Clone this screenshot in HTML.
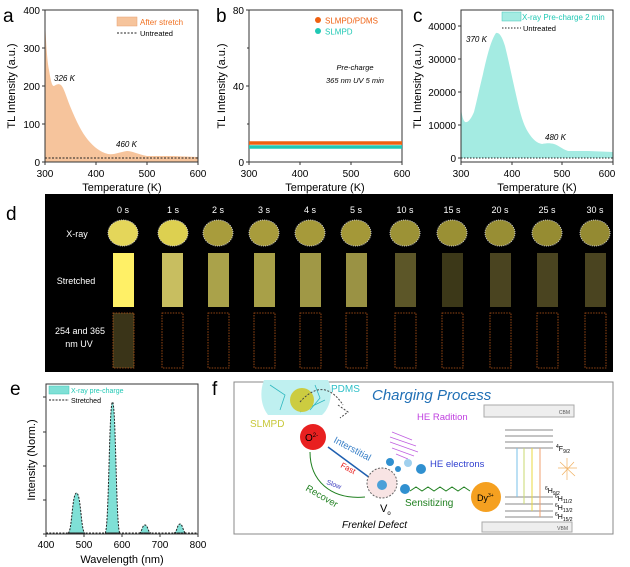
<!DOCTYPE html>
<html><head><meta charset="utf-8"><style>
html,body{margin:0;padding:0;background:#fff}
svg{display:block;font-family:"Liberation Sans",sans-serif}
</style></head><body>
<svg width="630" height="567" viewBox="0 0 630 567" xmlns="http://www.w3.org/2000/svg">
<!-- ===== Panel a ===== -->
<text x="3" y="22" font-size="19">a</text>
<path d="M45,162 L45,21 C46,40 47,60 49,70 C51,82 52,86 54,86 C56,85 58,83 61,85 C64,88 66,96 70,106 C75,118 80,130 88,140 C94,147 100,152 108,154 C114,155 120,152 127,151 C132,151 137,154 147,156 L173,156 L198,157 L198,162 Z" fill="#f6c49c"/>
<line x1="45" y1="158" x2="198" y2="158" stroke="#222" stroke-width="1" stroke-dasharray="2,1.5"/>
<rect x="45" y="10" width="153" height="152" fill="none" stroke="#333" stroke-width="1"/>
<g stroke="#333" stroke-width="1">
<line x1="42" y1="10" x2="45" y2="10"/><line x1="42" y1="48" x2="45" y2="48"/><line x1="42" y1="86" x2="45" y2="86"/><line x1="42" y1="124" x2="45" y2="124"/><line x1="42" y1="162" x2="45" y2="162"/>
<line x1="45" y1="162" x2="45" y2="165"/><line x1="96" y1="162" x2="96" y2="165"/><line x1="147" y1="162" x2="147" y2="165"/><line x1="198" y1="162" x2="198" y2="165"/>
</g>
<g font-size="10" text-anchor="end"><text x="40" y="14">400</text><text x="40" y="52">300</text><text x="40" y="90">200</text><text x="40" y="128">100</text><text x="40" y="166">0</text></g>
<g font-size="10" text-anchor="middle"><text x="45" y="177">300</text><text x="96" y="177">400</text><text x="147" y="177">500</text><text x="198" y="177">600</text></g>
<text x="122" y="191" font-size="11" text-anchor="middle">Temperature (K)</text>
<text transform="translate(15,86) rotate(-90)" font-size="11" text-anchor="middle">TL Intensity (a.u.)</text>
<text x="54" y="81" font-size="8" font-style="italic">326 K</text>
<text x="116" y="147" font-size="8" font-style="italic">460 K</text>
<rect x="117" y="17" width="20" height="9" fill="#f6c49c" stroke="#e8a070" stroke-width="0.5"/>
<text x="140" y="25" font-size="8" fill="#f07020">After stretch</text>
<line x1="117" y1="33" x2="137" y2="33" stroke="#222" stroke-dasharray="2,1.5"/>
<text x="140" y="36" font-size="7.5">Untreated</text>

<!-- ===== Panel b ===== -->
<text x="216" y="22" font-size="19">b</text>
<rect x="249" y="10" width="153" height="152" fill="none" stroke="#333" stroke-width="1"/>
<line x1="249" y1="143" x2="402" y2="143" stroke="#f06010" stroke-width="3.5"/>
<line x1="249" y1="147" x2="402" y2="147" stroke="#20c8b4" stroke-width="3.5"/>
<g stroke="#333" stroke-width="1">
<line x1="246" y1="10" x2="249" y2="10"/><line x1="247" y1="48" x2="249" y2="48"/><line x1="246" y1="86" x2="249" y2="86"/><line x1="247" y1="124" x2="249" y2="124"/><line x1="246" y1="162" x2="249" y2="162"/>
<line x1="249" y1="162" x2="249" y2="165"/><line x1="300" y1="162" x2="300" y2="165"/><line x1="351" y1="162" x2="351" y2="165"/><line x1="402" y1="162" x2="402" y2="165"/>
</g>
<g font-size="10" text-anchor="end"><text x="244" y="14">80</text><text x="244" y="90">40</text><text x="244" y="166">0</text></g>
<g font-size="10" text-anchor="middle"><text x="249" y="177">300</text><text x="300" y="177">400</text><text x="351" y="177">500</text><text x="402" y="177">600</text></g>
<text x="325" y="191" font-size="11" text-anchor="middle">Temperature (K)</text>
<text transform="translate(225,86) rotate(-90)" font-size="11" text-anchor="middle">TL Intensity (a.u.)</text>
<circle cx="318" cy="20" r="3" fill="#f06010"/><text x="325" y="23.5" font-size="8" fill="#f06010">SLMPD/PDMS</text>
<circle cx="318" cy="31" r="3" fill="#20c8b4"/><text x="325" y="34.5" font-size="8" fill="#20c8b4">SLMPD</text>
<text x="355" y="70" font-size="7.5" font-style="italic" text-anchor="middle">Pre-charge</text>
<text x="355" y="83" font-size="7.5" font-style="italic" text-anchor="middle">365 nm UV  5 min</text>

<!-- ===== Panel c ===== -->
<text x="413" y="22" font-size="19">c</text>
<path d="M461,158 L461,108 C462,116 463,120 465,122 C468,123 471,119 474,112 C477,100 480,86 483,74 C487,56 491,40 496,33 C499,32 502,36 505,46 C509,62 513,82 517,99 C520,112 523,124 528,132 C533,140 537,143 542,144 C547,143 550,143 554,144 C558,145 562,149 568,151 L588,151 L613,152 L613,158 Z" fill="#a4ebe2"/>
<line x1="461" y1="158" x2="613" y2="158" stroke="#222" stroke-dasharray="1.5,1.5"/>
<rect x="461" y="10" width="152" height="152" fill="none" stroke="#333" stroke-width="1"/>
<g stroke="#333" stroke-width="1">
<line x1="458" y1="26" x2="461" y2="26"/><line x1="458" y1="59" x2="461" y2="59"/><line x1="458" y1="92" x2="461" y2="92"/><line x1="458" y1="125" x2="461" y2="125"/><line x1="458" y1="158" x2="461" y2="158"/>
<line x1="461" y1="162" x2="461" y2="165"/><line x1="512" y1="162" x2="512" y2="165"/><line x1="562" y1="162" x2="562" y2="165"/><line x1="613" y1="162" x2="613" y2="165"/>
</g>
<g font-size="10" text-anchor="end"><text x="456" y="30">40000</text><text x="456" y="63">30000</text><text x="456" y="96">20000</text><text x="456" y="129">10000</text><text x="456" y="162">0</text></g>
<g font-size="10" text-anchor="middle"><text x="461" y="177">300</text><text x="512" y="177">400</text><text x="562" y="177">500</text><text x="607" y="177">600</text></g>
<text x="537" y="191" font-size="11" text-anchor="middle">Temperature (K)</text>
<text transform="translate(421,86) rotate(-90)" font-size="11" text-anchor="middle">TL Intensity (a.u.)</text>
<text x="466" y="42" font-size="8" font-style="italic">370 K</text>
<text x="545" y="140" font-size="8" font-style="italic">480 K</text>
<rect x="502" y="12" width="19" height="9" fill="#a4ebe2" stroke="#40c8b8" stroke-width="0.5"/>
<text x="522" y="20" font-size="8" fill="#20c8b4">X-ray Pre-charge 2 min</text>
<line x1="502" y1="28" x2="521" y2="28" stroke="#222" stroke-dasharray="1.5,1.5"/>
<text x="523" y="31" font-size="7.5">Untreated</text>

<!-- ===== Panel d ===== -->
<text x="6" y="220" font-size="19">d</text>
<rect x="45" y="194" width="568" height="178" fill="#000"/>
<g font-size="9" fill="#fff" text-anchor="middle">
<text x="123" y="213">0 s</text><text x="173" y="213">1 s</text><text x="218" y="213">2 s</text><text x="264" y="213">3 s</text><text x="310" y="213">4 s</text><text x="356" y="213">5 s</text><text x="405" y="213">10 s</text><text x="452" y="213">15 s</text><text x="500" y="213">20 s</text><text x="547" y="213">25 s</text><text x="595" y="213">30 s</text>
<text x="77" y="237">X-ray</text><text x="76" y="284">Stretched</text><text x="80" y="334">254 and 365</text><text x="79" y="347">nm UV</text>
</g>
<g stroke="#ccc" stroke-width="1" stroke-dasharray="1,1.2">
<ellipse cx="123" cy="233" rx="15" ry="13" fill="#e4d65a"/>
<ellipse cx="173" cy="233" rx="15" ry="13" fill="#ddd050"/>
<ellipse cx="218" cy="233" rx="15" ry="13" fill="#a89c3c"/>
<ellipse cx="264" cy="233" rx="15" ry="13" fill="#a89c3c"/>
<ellipse cx="310" cy="233" rx="15" ry="13" fill="#a69a3a"/>
<ellipse cx="356" cy="233" rx="15" ry="13" fill="#a49838"/>
<ellipse cx="405" cy="233" rx="15" ry="13" fill="#9c9236"/>
<ellipse cx="452" cy="233" rx="15" ry="13" fill="#9a9034"/>
<ellipse cx="500" cy="233" rx="15" ry="13" fill="#988e34"/>
<ellipse cx="547" cy="233" rx="15" ry="13" fill="#968c32"/>
<ellipse cx="595" cy="233" rx="15" ry="13" fill="#948a32"/>
</g>
<g>
<rect x="113" y="253" width="21" height="54" fill="#fff066"/>
<rect x="162" y="253" width="21" height="54" fill="#c8be60"/>
<rect x="208" y="253" width="21" height="54" fill="#aaa24a"/>
<rect x="254" y="253" width="21" height="54" fill="#a8a048"/>
<rect x="300" y="253" width="21" height="54" fill="#a09846"/>
<rect x="346" y="253" width="21" height="54" fill="#9a9244"/>
<rect x="395" y="253" width="21" height="54" fill="#5c5628"/>
<rect x="442" y="253" width="21" height="54" fill="#3c3818"/>
<rect x="490" y="253" width="21" height="54" fill="#4a4420"/>
<rect x="537" y="253" width="21" height="54" fill="#4a4420"/>
<rect x="585" y="253" width="21" height="54" fill="#4a4420"/>
</g>
<g fill="none" stroke="#c05a1a" stroke-width="0.8" stroke-dasharray="1.5,1.2">
<rect x="113" y="313" width="21" height="55" fill="#3a3418"/>
<rect x="162" y="313" width="21" height="55"/>
<rect x="208" y="313" width="21" height="55"/>
<rect x="254" y="313" width="21" height="55"/>
<rect x="300" y="313" width="21" height="55"/>
<rect x="346" y="313" width="21" height="55"/>
<rect x="395" y="313" width="21" height="55"/>
<rect x="442" y="313" width="21" height="55"/>
<rect x="490" y="313" width="21" height="55"/>
<rect x="537" y="313" width="21" height="55"/>
<rect x="585" y="313" width="21" height="55"/>
</g>

<!-- ===== Panel e ===== -->
<text x="10" y="395" font-size="19">e</text>
<g fill="#7fe0d6" stroke="#222" stroke-width="1" stroke-dasharray="2,1.3">
<path d="M68,533 C72,533 72,493 76.5,493 C81,493 81,533 85,533 Z"/>
<path d="M105,533 C109,533 109,402 112.5,402 C116,402 116,533 120,533 Z"/>
<path d="M139,533 C142,533 142,525 145,525 C148,525 148,533 151,533 Z"/>
<path d="M174,533 C177,533 177,524 180,524 C183,524 183,533 186,533 Z"/>
</g>
<line x1="46" y1="533" x2="198" y2="533" stroke="#222" stroke-dasharray="2,1.3"/>
<rect x="46" y="384" width="152" height="150" fill="none" stroke="#333" stroke-width="1"/>
<g stroke="#333" stroke-width="1">
<line x1="43" y1="397" x2="46" y2="397"/><line x1="43" y1="432" x2="46" y2="432"/><line x1="43" y1="466" x2="46" y2="466"/><line x1="43" y1="500" x2="46" y2="500"/><line x1="43" y1="534" x2="46" y2="534"/>
<line x1="46" y1="534" x2="46" y2="537"/><line x1="84" y1="534" x2="84" y2="537"/><line x1="122" y1="534" x2="122" y2="537"/><line x1="160" y1="534" x2="160" y2="537"/><line x1="198" y1="534" x2="198" y2="537"/>
</g>
<g font-size="10" text-anchor="middle"><text x="46" y="548">400</text><text x="84" y="548">500</text><text x="122" y="548">600</text><text x="160" y="548">700</text><text x="198" y="548">800</text></g>
<text x="122" y="563" font-size="11" text-anchor="middle">Wavelength (nm)</text>
<text transform="translate(35,460) rotate(-90)" font-size="11" text-anchor="middle">Intensity (Norm.)</text>
<rect x="49" y="386" width="20" height="8" fill="#7fe0d6" stroke="#40c8b8" stroke-width="0.5"/>
<text x="71" y="393" font-size="7" fill="#20c8b4">X-ray pre-charge</text>
<line x1="49" y1="400" x2="69" y2="400" stroke="#222" stroke-dasharray="2,1.3"/>
<text x="71" y="403" font-size="7">Stretched</text>

<!-- ===== Panel f ===== -->
<text x="212" y="395" font-size="19">f</text>
<rect x="234" y="382" width="379" height="152" fill="#fff" stroke="#888" stroke-width="1"/>
<path d="M264,380 L328,380 C334,392 330,408 322,415 L268,415 C260,405 260,390 264,380 Z" fill="#bff0f0"/>
<g stroke="#30b8c0" stroke-width="0.8" fill="none"><path d="M270,385 L285,395 L280,410"/><path d="M315,385 L320,398 L310,410"/><path d="M300,412 L325,400"/></g>
<circle cx="302" cy="400" r="12" fill="#cccc40"/>
<path d="M300,402 C315,385 330,385 343,405" fill="none" stroke="#444" stroke-dasharray="2,1.5"/>
<path d="M338,405 L348,412 L340,418" fill="none" stroke="#444" stroke-dasharray="2,1.5"/>
<text x="331" y="392" font-size="10" fill="#30c0c8">PDMS</text>
<text x="250" y="427" font-size="10" fill="#c8c83a">SLMPD</text>
<text x="372" y="400" font-size="15" font-style="italic" fill="#1f6fb5">Charging Process</text>
<rect x="484" y="405" width="90" height="12" fill="#eee" stroke="#aaa"/>
<text x="570" y="414" font-size="5" text-anchor="end" fill="#555">CBM</text>
<text x="417" y="420" font-size="9.5" fill="#c040e0">HE Radition</text>
<g stroke="#c060e0" stroke-width="0.8"><line x1="392" y1="432" x2="412" y2="440"/><line x1="390" y1="437" x2="416" y2="446"/><line x1="390" y1="442" x2="418" y2="452"/><line x1="392" y1="448" x2="414" y2="456"/><line x1="396" y1="454" x2="408" y2="459"/></g>
<circle cx="313" cy="437" r="13" fill="#e82020"/>
<text x="305" y="441" font-size="10">O<tspan font-size="6" dy="-4">2-</tspan></text>
<text transform="translate(333,442) rotate(28)" font-size="9.5" fill="#3a80c8">Interstitial</text>
<line x1="370" y1="478" x2="328" y2="447" stroke="#1f5fb0" stroke-width="1.5"/>
<text transform="translate(340,467) rotate(28)" font-size="8" fill="#e82020">Fast</text>
<text transform="translate(326,484) rotate(20)" font-size="7" fill="#4040c0">Slow</text>
<path d="M310,452 C310,480 330,500 365,497" fill="none" stroke="#208020" stroke-width="1"/>
<text transform="translate(305,490) rotate(30)" font-size="9.5" fill="#208020">Recover</text>
<circle cx="382" cy="483" r="15" fill="#f8e4e4" stroke="#666" stroke-dasharray="2,1.5"/>
<circle cx="382" cy="485" r="5" fill="#4aa0d8"/>
<circle cx="390" cy="462" r="4" fill="#3090d0"/><circle cx="398" cy="469" r="3" fill="#3090d0"/><circle cx="408" cy="463" r="4" fill="#a0d0ee"/><circle cx="421" cy="469" r="5" fill="#3090d0"/><circle cx="405" cy="489" r="5" fill="#3090d0"/>
<text x="430" y="467" font-size="9.5" fill="#3040d0">HE electrons</text>
<path d="M410,491 l6,-4 l6,4 l6,-4 l6,4 l6,-4 l6,4 l6,-4 l6,4 l6,-4 l6,4" fill="none" stroke="#208020"/>
<text x="380" y="512" font-size="11">V<tspan font-size="6" dy="3">o</tspan></text>
<text x="405" y="506" font-size="10" fill="#208020">Sensitizing</text>
<circle cx="486" cy="497" r="15" fill="#f5a020"/>
<text x="477" y="501" font-size="9">Dy<tspan font-size="5" dy="-4">3+</tspan></text>
<text x="342" y="528" font-size="10" font-style="italic">Frenkel Defect</text>
<g stroke="#888" stroke-width="1"><line x1="505" y1="430" x2="553" y2="430"/><line x1="505" y1="436" x2="553" y2="436"/><line x1="505" y1="442" x2="553" y2="442"/><line x1="505" y1="448" x2="553" y2="448"/>
<line x1="505" y1="497" x2="553" y2="497"/><line x1="505" y1="504" x2="553" y2="504"/><line x1="505" y1="511" x2="553" y2="511"/><line x1="505" y1="517" x2="553" y2="517"/></g>
<line x1="517" y1="448" x2="517" y2="497" stroke="#7ac0e8"/>
<line x1="524" y1="448" x2="524" y2="504" stroke="#c8d870"/>
<line x1="532" y1="448" x2="532" y2="511" stroke="#e8d840"/>
<line x1="540" y1="448" x2="540" y2="517" stroke="#f0a070"/>
<text x="556" y="451" font-size="7"><tspan font-size="5" dy="-3">4</tspan><tspan dy="3">F</tspan><tspan font-size="5" dy="2">9/2</tspan></text>
<text x="545" y="493" font-size="7"><tspan font-size="5" dy="-3">6</tspan><tspan dy="3">H</tspan><tspan font-size="5" dy="2">9/2</tspan></text>
<text x="555" y="501" font-size="7"><tspan font-size="5" dy="-3">6</tspan><tspan dy="3">H</tspan><tspan font-size="5" dy="2">11/2</tspan></text>
<text x="555" y="510" font-size="7"><tspan font-size="5" dy="-3">6</tspan><tspan dy="3">H</tspan><tspan font-size="5" dy="2">13/2</tspan></text>
<text x="555" y="519" font-size="7"><tspan font-size="5" dy="-3">6</tspan><tspan dy="3">H</tspan><tspan font-size="5" dy="2">15/2</tspan></text>
<g stroke="#f0b060" stroke-width="0.7"><line x1="560" y1="462" x2="575" y2="476"/><line x1="558" y1="468" x2="577" y2="468"/><line x1="562" y1="475" x2="574" y2="462"/><line x1="567" y1="458" x2="567" y2="480"/></g>
<rect x="482" y="522" width="90" height="10" fill="#eee" stroke="#aaa"/>
<text x="568" y="530" font-size="5" text-anchor="end" fill="#555">VBM</text>
</svg>
</body></html>
